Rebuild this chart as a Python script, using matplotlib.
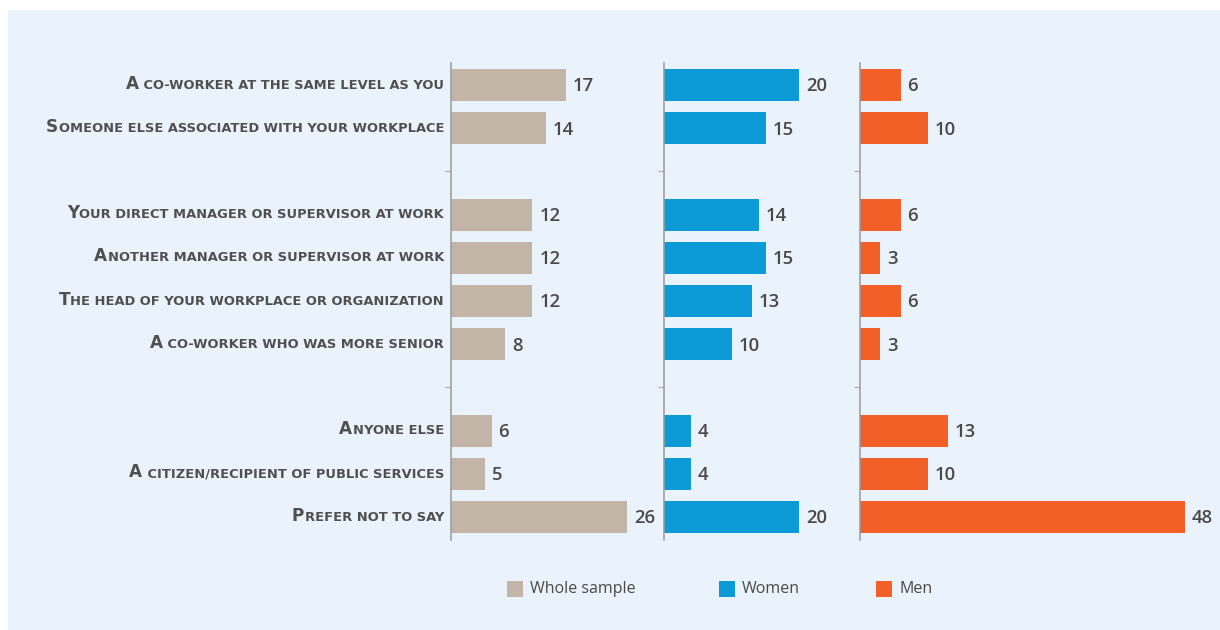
import matplotlib
matplotlib.use('Agg')
from matplotlib import pyplot as plt
from matplotlib.patches import Rectangle

# data (None = spacer row between groups)
labels = ['A co-worker at the same level as you',
          'Someone else associated with your workplace',
          None,
          'Your direct manager or supervisor at work',
          'Another manager or supervisor at work',
          'The head of your workplace or organization',
          'A co-worker who was more senior',
          None,
          'Anyone else',
          'A citizen/recipient of public services',
          'Prefer not to say']
whole = [17, 14, None, 12, 12, 12, 8, None, 6, 5, 26]
women = [20, 15, None, 14, 15, 13, 10, None, 4, 4, 20]
men = [6, 10, None, 6, 3, 6, 3, None, 13, 10, 48]
series_names = ['Whole sample', 'Women', 'Men']
colors = ['#C2B5A8', '#0D9BD7', '#F25F27']

W, H = 1220, 630
BG = '#EAF2FB'
TXT = '#4A4A4A'
FONT = 'Open Sans'
PX_PER_UNIT = 6.77

fig = plt.figure(figsize=(W / 100, H / 100), dpi=100)
fig.patch.set_facecolor('white')
fig.patches.append(Rectangle((8 / W, 0), 1 - 8 / W, 1 - 10 / H, transform=fig.transFigure,
                             facecolor=BG, edgecolor='none', zorder=-10))

# panel extents in pixels
panels = [(451, 213), (664, 196), (860, 350)]
top_px, bot_px = 63, 540
pos = list(range(len(labels)))
gaps = [i for i, l in enumerate(labels) if l is None]

axes = []
for (left, width), vals, col in zip(panels, [whole, women, men], colors):
    ax = fig.add_axes([left / W, 1 - bot_px / H, width / W, (bot_px - top_px) / H])
    ax.set_facecolor('none')
    ys = [p for p, v in zip(pos, vals) if v is not None]
    vs = [v for v in vals if v is not None]
    ax.barh(ys, vs, height=0.74, color=col, edgecolor='none')
    for y, v in zip(ys, vs):
        ax.annotate(str(v), xy=(v, y), xytext=(5, -1), textcoords='offset points',
                    ha='left', va='center', fontsize=13.3, color=TXT,
                    fontfamily=FONT, fontweight='semibold')
    ax.set_xlim(0, width / PX_PER_UNIT)
    ax.set_ylim(10.53, -0.51)
    for s in ['top', 'right', 'bottom']:
        ax.spines[s].set_visible(False)
    ax.spines['left'].set_color('#9A9A9A')
    ax.spines['left'].set_linewidth(1.1)
    ax.set_xticks([])
    ax.set_yticks(gaps)
    ax.set_yticklabels([])
    ax.tick_params(axis='y', length=4, width=0.9, color='#B0B0B0')
    axes.append(ax)

# category labels in small caps, drawn onto the first panel
ax0 = axes[0]
renderer = fig.canvas.get_renderer()
big, small = 12.2, 9.4
LFONT = 'DejaVu Sans'
for y, lab in zip(pos, labels):
    if lab is None:
        continue
    rest = ax0.annotate(lab[1:].upper(), xy=(0, y), xycoords=('axes fraction', 'data'),
                        xytext=(-5, -2.5), textcoords='offset points', ha='right', va='baseline',
                        fontsize=small, color='#505050', fontfamily=LFONT, fontweight='bold')
    w = rest.get_window_extent(renderer).width * 72 / fig.dpi
    ax0.annotate(lab[0], xy=(0, y), xycoords=('axes fraction', 'data'),
                 xytext=(-5 - w - 0.3, -2.5), textcoords='offset points', ha='right', va='baseline',
                 fontsize=big, color='#505050', fontfamily=LFONT, fontweight='bold')

# legend
leg_x = [507, 719, 876]
for x, name, col in zip(leg_x, series_names, colors):
    fig.patches.append(Rectangle((x / W, 1 - 597 / H), 16 / W, 16 / H, transform=fig.transFigure,
                                 facecolor=col, edgecolor='none'))
    fig.text((x + 23) / W, 1 - 589 / H, name, ha='left', va='center', fontsize=11.5,
             color=TXT, fontfamily=FONT)

fig.savefig('out.png', dpi=100, facecolor=fig.get_facecolor())
